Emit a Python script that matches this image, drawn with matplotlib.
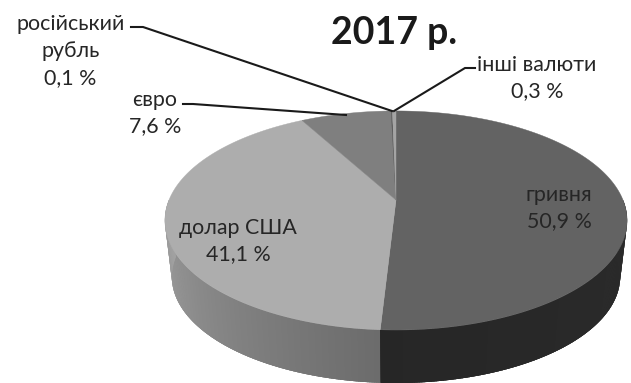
import numpy as np
import matplotlib
matplotlib.use("Agg")
import matplotlib.pyplot as plt
from matplotlib.collections import PolyCollection

title = "2017 р."
currencies = ["гривня", "долар США", "євро", "російський\nрубль", "інші валюти"]
shares = [50.9, 41.1, 7.6, 0.1, 0.3]
top_colors = ["#636363", "#adadad", "#7f7f7f", "#505050", "#a4a4a4"]

plt.rcParams["font.family"] = ["Lato", "Open Sans", "DejaVu Sans"]
TEXT = "#262626"

fig = plt.figure(figsize=(6.31, 3.83), dpi=100)
ax = fig.add_axes([0, 0, 1, 1])
ax.set_xlim(0, 631)
ax.set_ylim(383, 0)
ax.axis("off")

# Perspective disc: far rim is compressed relative to the near rim
CX, CY, A, B, P = 396.0, 200.0, 227.0, 105.7, 0.187
DEPTH, SHRINK = 56.9, 0.97


def project(theta, drop=0.0, scale=1.0):
    """Map clockwise-from-top angles (radians) on the disc to canvas positions."""
    u, v = np.sin(theta), np.cos(theta)
    w = 1 + P * v
    return CX + scale * A * u / w, CY + drop - scale * B * v / w


edges = np.concatenate([[0], np.cumsum(shares)]) / sum(shares) * 2 * np.pi
split = edges[1]

# Rim sections: lighter one first so the darker one overlaps their shared seam
sections = [
    (split - 0.012, 1.5 * np.pi, 0.42, 0.64),
    (np.pi / 2, split, 0.17, 0.15),
]
for lo, hi, shade_lo, shade_hi in sections:
    t = np.linspace(lo, hi, 200)
    x_top, y_top = project(t)
    x_low, y_low = project(t[::-1], drop=DEPTH, scale=SHRINK)
    mean = (shade_lo + shade_hi) / 2
    ax.fill(np.r_[x_top, x_low], np.r_[y_top, y_low], color=(mean, mean, mean),
            linewidth=0, zorder=1)

    # Thin overlapping quads carry the shading around the rim
    steps = np.linspace(lo, hi, 181)
    quads, colours = [], []
    for t0, t1 in zip(steps[:-1], steps[1:]):
        end = min(t1 + 0.012, hi)
        x0, y0 = project(t0)
        x1, y1 = project(end)
        x2, y2 = project(end, drop=DEPTH, scale=SHRINK)
        x3, y3 = project(t0, drop=DEPTH, scale=SHRINK)
        quads.append([(x0, y0), (x1, y1), (x2, y2), (x3, y3)])
        g = np.interp((t0 + t1) / 2, [lo, hi], [shade_lo, shade_hi])
        colours.append((g, g, g))
    ax.add_collection(PolyCollection(quads, facecolors=colours, edgecolors="none", zorder=1))

# Top face, one wedge per currency
for start, stop, colour in zip(edges[:-1], edges[1:], top_colors):
    theta = np.linspace(start, stop, max(int((stop - start) * 120), 3))
    px, py = project(theta)
    ax.fill(np.r_[CX, px], np.r_[CY, py], facecolor=colour, edgecolor=colour,
            linewidth=0.3, zorder=2)

# Leader lines
leaders = [
    ([131, 143, 392], [27, 27, 111]),
    ([183, 193, 346], [104, 104, 115]),
    ([475, 465, 394], [68, 68, 111]),
]
for lx, ly in leaders:
    ax.plot(lx, ly, color="#1a1a1a", lw=1.5, zorder=3, solid_joinstyle="miter")

ax.text(394, 33, title, ha="center", va="center", fontsize=27, fontweight="bold",
        color="#1a1a1a")


def pct(v):
    return f"{v:.1f} %".replace(".", ",")


label_spots = [
    (559, 208), (238, 241), (155, 113), (70.5, 51), (537, 78),
]
for name, value, (lx, ly) in zip(currencies, shares, label_spots):
    ax.text(lx, ly, f"{name}\n{pct(value)}", ha="center", va="center", fontsize=15.4,
            color=TEXT, linespacing=1.42, zorder=4)

fig.savefig("out.png", dpi=100, facecolor="white")
